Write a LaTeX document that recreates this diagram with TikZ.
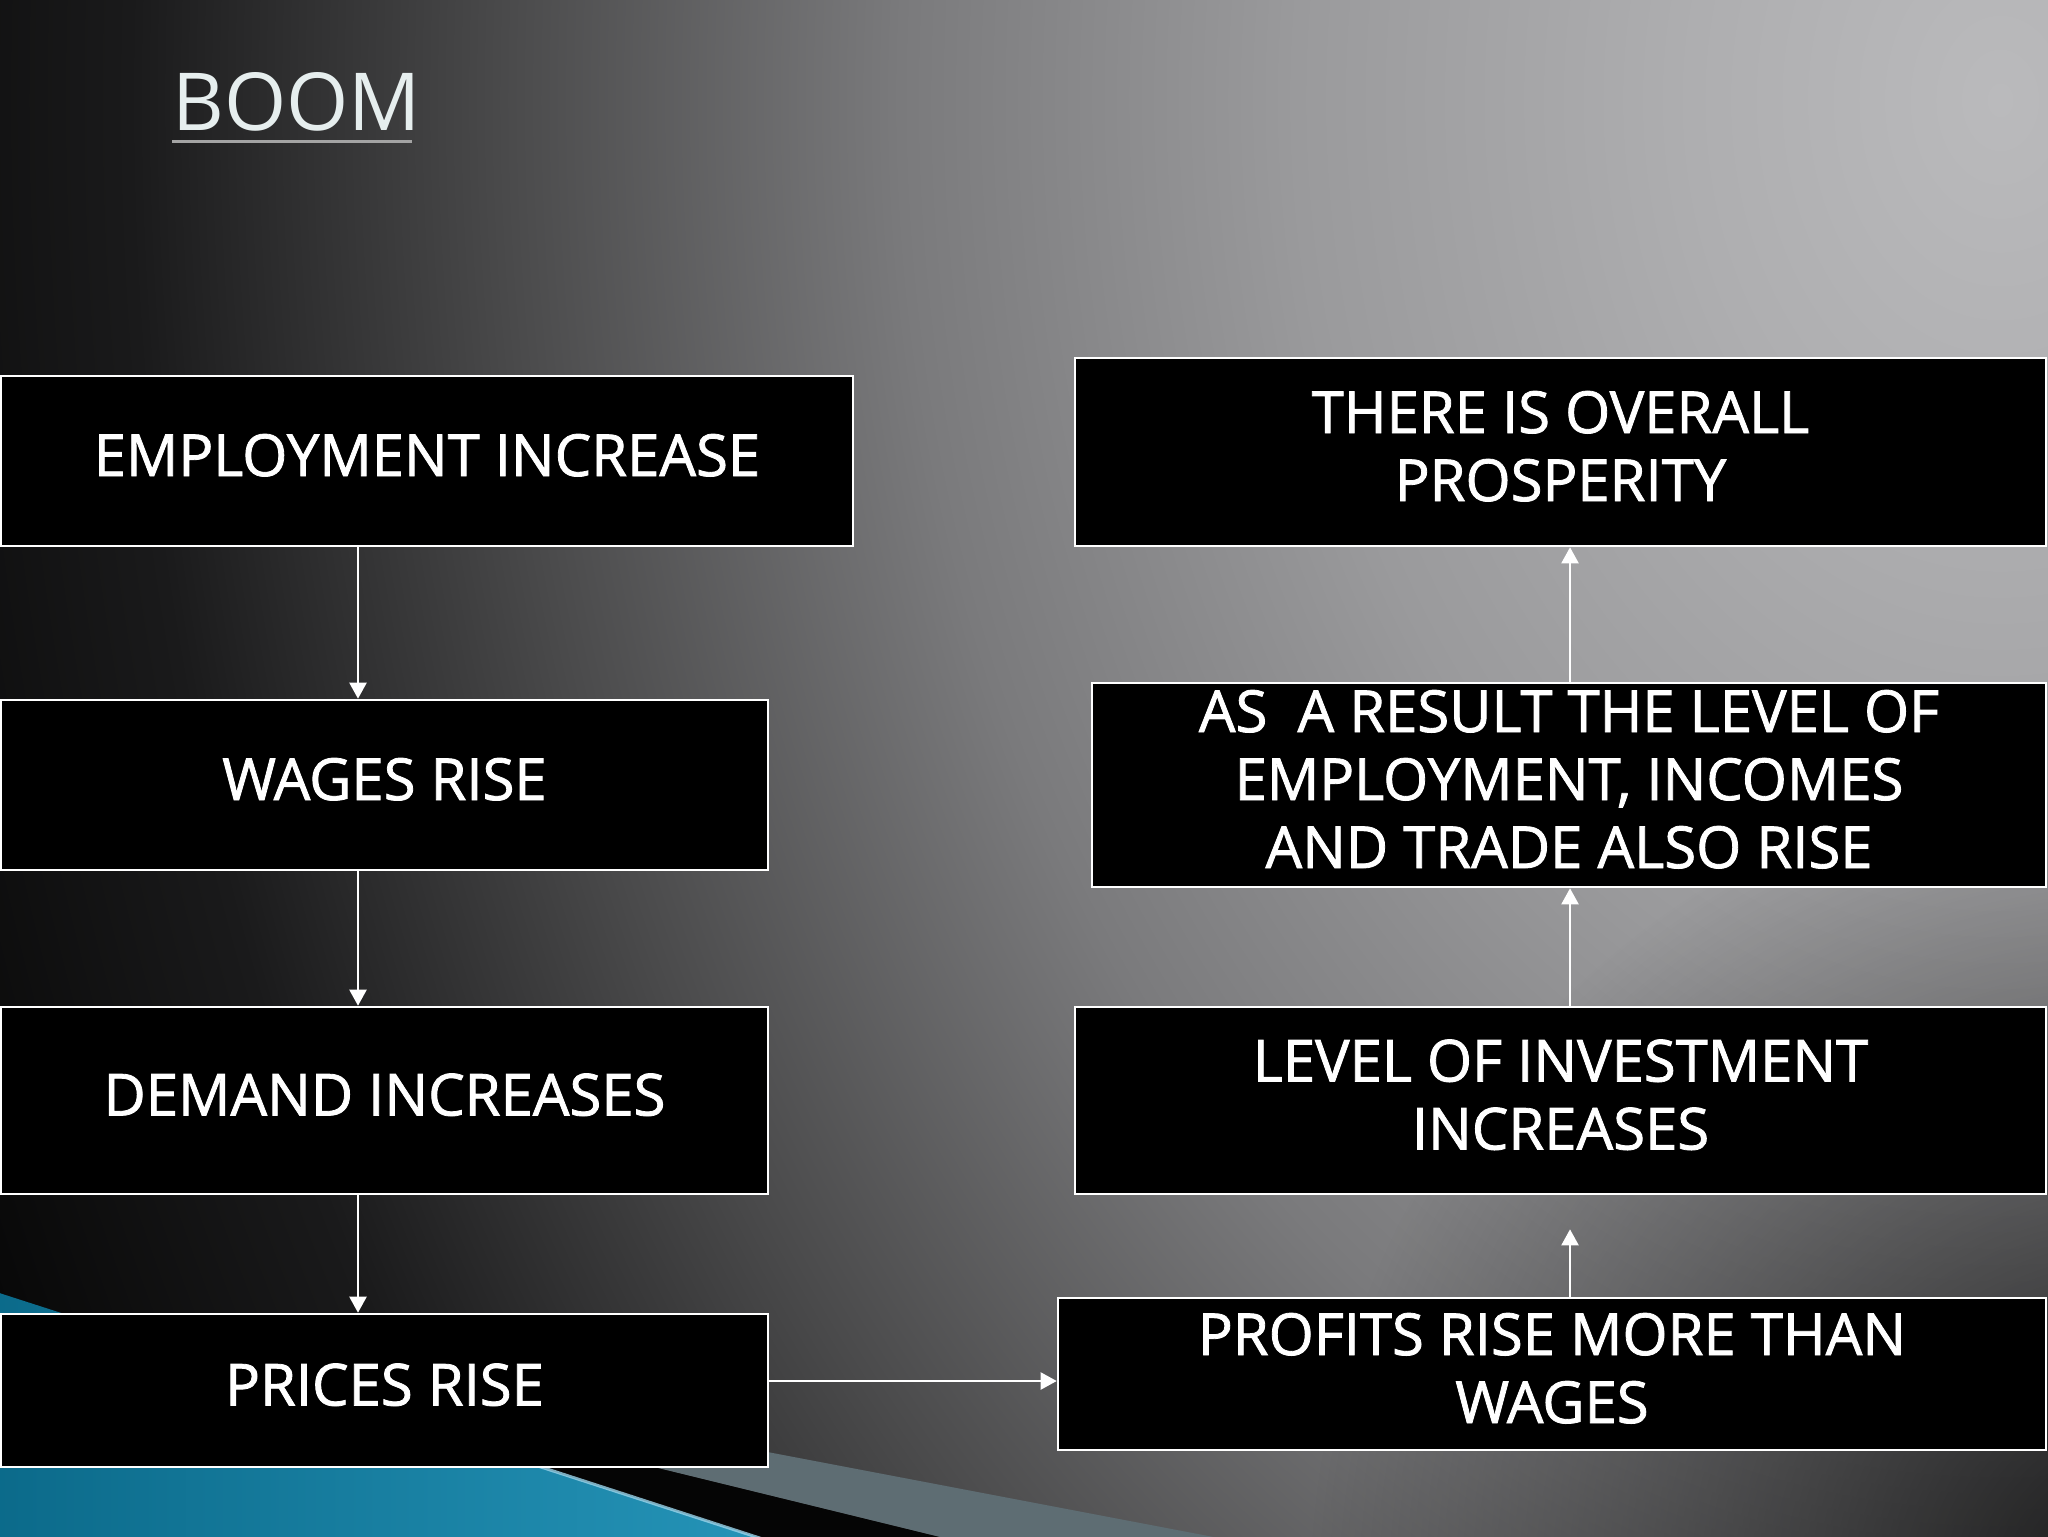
\documentclass[tikz,border=0pt]{standalone}
\usepackage{fontspec}
\setmainfont{Open Sans}
\newfontfamily\boxfam{Open Sans}[FakeBold=1.4]
\usetikzlibrary{arrows.meta,fadings}
\definecolor{bg0}{HTML}{BABABC}
\definecolor{bg1}{HTML}{AEAEB0}
\definecolor{bg2}{HTML}{9A9A9C}
\definecolor{bg3}{HTML}{7A7A7C}
\definecolor{bg4}{HTML}{4A4A4B}
\definecolor{bg5}{HTML}{1A1A1B}
\definecolor{bg6}{HTML}{080808}
\definecolor{blueL}{HTML}{0B6A8A}
\definecolor{blueM}{HTML}{46ACD0}
\definecolor{blueR}{HTML}{2594B8}
\definecolor{bandgray}{HTML}{5E6D73}
\definecolor{bandblack}{HTML}{050505}
\definecolor{stripe}{HTML}{9AD4EA}
\definecolor{titlecol}{HTML}{E6EEEE}
\definecolor{ulgray}{HTML}{A4A4A4}
\pgfdeclareradialshading{bgshade}{\pgfpoint{0bp}{0bp}}{color(0bp)=(bg0); color(3.5bp)=(bg1); color(8bp)=(bg2); color(12.5bp)=(bg3); color(17bp)=(bg4); color(21.25bp)=(bg5); color(25bp)=(bg6); color(50bp)=(bg6)}
\tikzfading[name=vign, inner color=transparent!0, outer color=transparent!100]
\newcommand\boxfont{\boxfam\fontsize{29}{34}\selectfont}
\newcommand\titlefont{\fontsize{40}{48}\selectfont}
\tikzset{
  flowbox/.style={draw=white, fill=black, line width=1.3pt, inner sep=0pt,
    text=white, align=center, font=\boxfont, text depth=6pt},
  arr/.style={draw=white, line width=1.1pt, -{Triangle[length=8pt,width=8.5pt]}},
  titlestyle/.style={text=titlecol, font=\titlefont, inner sep=0pt}
}
\begin{document}
\begin{tikzpicture}[x=0.5pt,y=-0.5pt]
\useasboundingbox (0,0) rectangle (2048,1536);
\begin{scope}
\clip (0,0) rectangle (2048,1536);
\fill[bg6] (-10,-10) rectangle (2060,1550);
\shade[shading=bgshade] (2000,100) ellipse [x radius=1100pt, y radius=1450pt];
\fill[black, path fading=vign, fill opacity=0.8] (2150,1600) circle [radius=420pt];
% bottom-left swoosh
\fill[bandgray] (-20,1302) -- (960,1542) -- (1240,1542) -- cycle;
\fill[bandblack] (187,1353) -- (772,1542) -- (960,1542) -- cycle;
\shade[left color=blueL, middle color=blueM, right color=blueR] (-10,1290) -- (772,1542) -- (-10,1542) -- cycle;
\draw[stripe, line width=1.5pt, opacity=0.8] (350,1405) -- (772,1542);
\end{scope}

% title
\node[titlestyle, anchor=base west] (title) at (172,130) {BOOM};
\draw[ulgray, line width=1.5pt] (172,141) -- (412,141);

% boxes
\node[flowbox, minimum width=426pt, minimum height=85pt] (b1) at (427,461) {EMPLOYMENT INCREASE};
\node[flowbox, minimum width=383.5pt, minimum height=85pt] (b2) at (384.5,785) {WAGES RISE};
\node[flowbox, minimum width=383.5pt, minimum height=93.5pt] (b3) at (384.5,1100.5) {DEMAND INCREASES};
\node[flowbox, minimum width=383.5pt, minimum height=76.5pt] (b4) at (384.5,1390.5) {PRICES RISE};
\node[flowbox, minimum width=485.5pt, minimum height=94pt] (b5) at (1560.5,452) {THERE IS OVERALL\\PROSPERITY};
\node[flowbox, minimum width=477pt, minimum height=102pt] (b6) at (1569,785) {AS\ \ A RESULT THE LEVEL OF\\EMPLOYMENT, INCOMES\\AND TRADE ALSO RISE};
\node[flowbox, minimum width=485.5pt, minimum height=93.5pt] (b7) at (1560.5,1100.5) {LEVEL OF INVESTMENT\\INCREASES};
\node[flowbox, minimum width=494pt, minimum height=76pt] (b8) at (1552,1374) {PROFITS RISE MORE THAN\\WAGES};

% connectors
\coordinate (lx) at (358,0);
\coordinate (rx) at (1570,0);
\coordinate (hy) at (0,1381);
\draw[arr] (b1.south -| lx) -- (b2.north -| lx);
\draw[arr] (b2.south -| lx) -- (b3.north -| lx);
\draw[arr] (b3.south -| lx) -- (b4.north -| lx);
\draw[arr] (b4.east |- hy) -- (b8.west |- hy);
\draw[arr, shorten >=17pt] (b8.north -| rx) -- (b7.south -| rx);
\draw[arr] (b7.north -| rx) -- (b6.south -| rx);
\draw[arr] (b6.north -| rx) -- (b5.south -| rx);
\end{tikzpicture}
\end{document}
